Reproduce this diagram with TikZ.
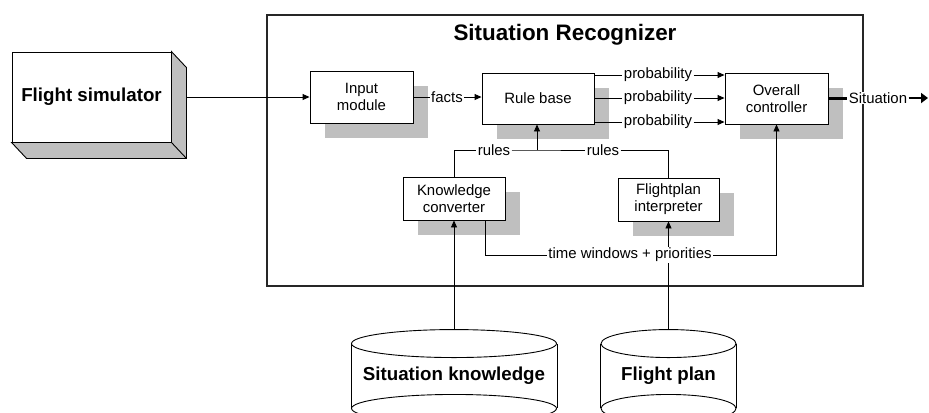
\documentclass[tikz,border=0pt]{standalone}
\usepackage{fontspec}
\setmainfont{Liberation Sans}
\usetikzlibrary{arrows.meta,shadows}
\newcommand{\boxtext}{\fontsize{15}{17}\selectfont}
\newcommand{\bigtext}{\fontsize{18.8}{22}\selectfont\bfseries}
\newcommand{\headtext}{\fontsize{22.5}{26}\selectfont\bfseries}

\begin{document}
\begin{tikzpicture}[x=1bp,y=-1bp,line width=0.9bp,
  unit/.style={draw,fill=white,align=center,font=\boxtext,
    drop shadow={shadow xshift=15bp,shadow yshift=-15bp,fill=black!25,opacity=1}},
  lbl/.style={inner sep=1bp,font=\boxtext},
  arr/.style={-{Triangle[length=7bp,width=6bp]}}]
\useasboundingbox (0,0) rectangle (929,412);
\clip (0,0) rectangle (929,412);

% simulator
\node[draw,fill=white,minimum width=159bp,minimum height=90bp,font=\bigtext] (fs) at (91.5,97) {Flight simulator};
\filldraw[fill=black!25] (fs.north east) -- ++(15,16) -- ([shift={(15,16)}]fs.south east)
  -- ([shift={(15,16)}]fs.south west) -- (fs.south west) -- (fs.south east) -- cycle;
\draw (fs.south east) -- ++(15,16);

% recognizer
\node[draw,line width=1.4bp,black!85,minimum width=596bp,minimum height=271bp] (sr) at (565,150.5) {};
\node[font=\headtext] (title) at (565,35) {Situation Recognizer};

\node[unit,minimum width=103bp,minimum height=52bp] (im) at (361.5,97) {Input\\module};
\node[unit,minimum width=112bp,minimum height=51bp] (rb) at (538,98.5) {Rule base};
\node[unit,minimum width=103bp,minimum height=51bp] (oc) at (776.5,98.5) {Overall\\controller};
\node[unit,minimum width=102bp,minimum height=43bp] (kc) at (454,198.5) {Knowledge\\converter};
\node[unit,minimum width=101bp,minimum height=43bp] (fi) at (668.5,199.5) {Flightplan\\interpreter};

% databases
\node[minimum width=205bp,minimum height=64bp,font=\bigtext] (sk) at (454,376) {Situation knowledge};
\node[minimum width=135bp,minimum height=64bp,font=\bigtext] (fp) at (668.5,376) {Flight plan};
\foreach \db/\r in {sk/102.5,fp/67.5}{
  \draw (\db.north west) -- (\db.south west) (\db.north east) -- (\db.south east);
  \draw (\db.north) ellipse [x radius=\r bp,y radius=14bp];
  \draw (\db.south) ellipse [x radius=\r bp,y radius=14bp];
}
\draw[arr] ([yshift=14bp]sk.north) -- (kc.south);
\draw[arr] ([yshift=14bp]fp.north) -- (fi.south);

% labels
\node[lbl] (facts) at (447,97) {facts};
\node[lbl] (p1) at (658,75) {probability};
\node[lbl] (p2) at (658,98) {probability};
\node[lbl] (p3) at (658,122) {probability};
\node[lbl] (r1) at (494,150) {rules};
\node[lbl] (r2) at (603,150) {rules};
\coordinate (rj) at (537,150);
\node[lbl,fill=white] (tw) at (630,255) {time windows + priorities};
\node[lbl,fill=white] (sit) at (878,98) {Situation};
\coordinate (sitend) at (928,98);

% connectors
\draw[arr] ([xshift=15bp]fs.east) -- (im.west);
\draw (im.east |- facts) -- (facts);
\draw[arr] (facts) -- (rb.west |- facts);
\foreach \p in {p1,p2,p3}{
  \draw (rb.east |- \p) -- (\p);
  \draw[arr] (\p) -- (oc.west |- \p);
}
\draw[line width=3bp] (oc.east |- sit) -- (sit.west);
\draw[line width=2.4bp,-{Triangle[length=7bp,width=10bp]}] (sit.east) -- (sitend);
\draw (kc.north) |- (r1);
\draw (r1) -- (rj) -- (r2);
\draw (r2) -| (fi.north);
\draw[arr] (rj) -- (rb.south -| rj);
\draw ([xshift=31bp]kc.south) |- (tw);
\draw[arr] (tw) -| (oc.south);
\end{tikzpicture}
\end{document}
